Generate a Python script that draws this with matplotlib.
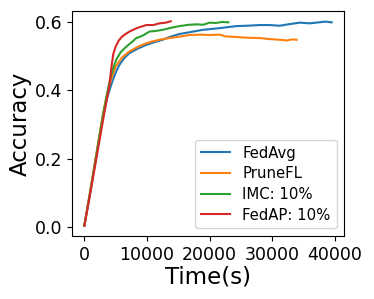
import numpy as np
import matplotlib.pyplot as plt

t_fedavg = [0, 1000, 2000, 3000, 3600, 4000, 4500, 5000, 5600, 6400, 7200, 8500, 9900, 11000,
            12500, 13600, 15200, 16800, 18900, 20000, 21600, 22500, 24300, 26000, 28000,
            29600, 31200, 32500, 34400, 36000, 37500, 38500, 39500]
acc_fedavg = [0.005, 0.11, 0.22, 0.33, 0.375, 0.40, 0.428, 0.452, 0.475, 0.495, 0.509, 0.522,
              0.533, 0.540, 0.548, 0.556, 0.565, 0.570, 0.577, 0.579, 0.582, 0.584, 0.588,
              0.589, 0.591, 0.591, 0.589, 0.593, 0.598, 0.596, 0.599, 0.601, 0.599]

t_prunefl = [0, 1000, 2000, 3000, 3500, 4000, 4500, 5000, 6000, 7200, 8500, 9900, 11000,
             12500, 13600, 15200, 16800, 18500, 20000, 21600, 22500, 24300, 26000, 28000,
             29600, 31200, 32300, 33200, 33900]
acc_prunefl = [0.005, 0.115, 0.225, 0.335, 0.38, 0.415, 0.445, 0.470, 0.496, 0.514, 0.527,
               0.538, 0.544, 0.550, 0.553, 0.557, 0.562, 0.563, 0.562, 0.563, 0.558, 0.556,
               0.554, 0.553, 0.550, 0.548, 0.546, 0.549, 0.548]

t_imc = [0, 1000, 2000, 3000, 3700, 4100, 4600, 5100, 5800, 6700, 7500, 8300, 9300, 10400,
         11500, 12500, 13600, 15200, 16800, 18000, 19000, 20000, 21000, 22000, 23000]
acc_imc = [0.005, 0.11, 0.22, 0.33, 0.397, 0.432, 0.465, 0.49, 0.512, 0.528, 0.540, 0.553,
           0.560, 0.572, 0.574, 0.577, 0.582, 0.588, 0.592, 0.593, 0.592, 0.598, 0.597,
           0.600, 0.599]

t_fedap = [0, 1000, 2000, 3000, 3600, 4000, 4300, 4600, 5000, 5500, 6000, 6600, 7200, 8500,
           9900, 11000, 12000, 13000, 13800]
acc_fedap = [0.005, 0.105, 0.21, 0.315, 0.375, 0.415, 0.465, 0.505, 0.528, 0.546, 0.557,
             0.565, 0.572, 0.583, 0.591, 0.591, 0.596, 0.598, 0.602]

labels = ["FedAvg", "PruneFL", "IMC: 10%", "FedAP: 10%"]

fig = plt.figure(figsize=(3.74, 2.99), dpi=100)
ax = fig.add_axes([0.1925, 0.211, 0.7275, 0.752])

ax.plot(t_fedavg, acc_fedavg, color="C0", lw=1.5, label=labels[0])
ax.plot(t_prunefl, acc_prunefl, color="C1", lw=1.5, label=labels[1])
ax.plot(t_imc, acc_imc, color="C2", lw=1.5, label=labels[2])
ax.plot(t_fedap, acc_fedap, color="C3", lw=1.5, label=labels[3])

ax.set_xticks([0, 10000, 20000, 30000, 40000])
ax.set_yticks([0.0, 0.2, 0.4, 0.6])
ax.tick_params(labelsize=12.5)
ax.set_xlabel("Time(s)", fontsize=16.5, labelpad=1)
ax.set_ylabel("Accuracy", fontsize=16.5, labelpad=2)
ax.legend(loc="lower right", fontsize=10.7, labelspacing=0.38)

fig.savefig("out.png", dpi=100)
